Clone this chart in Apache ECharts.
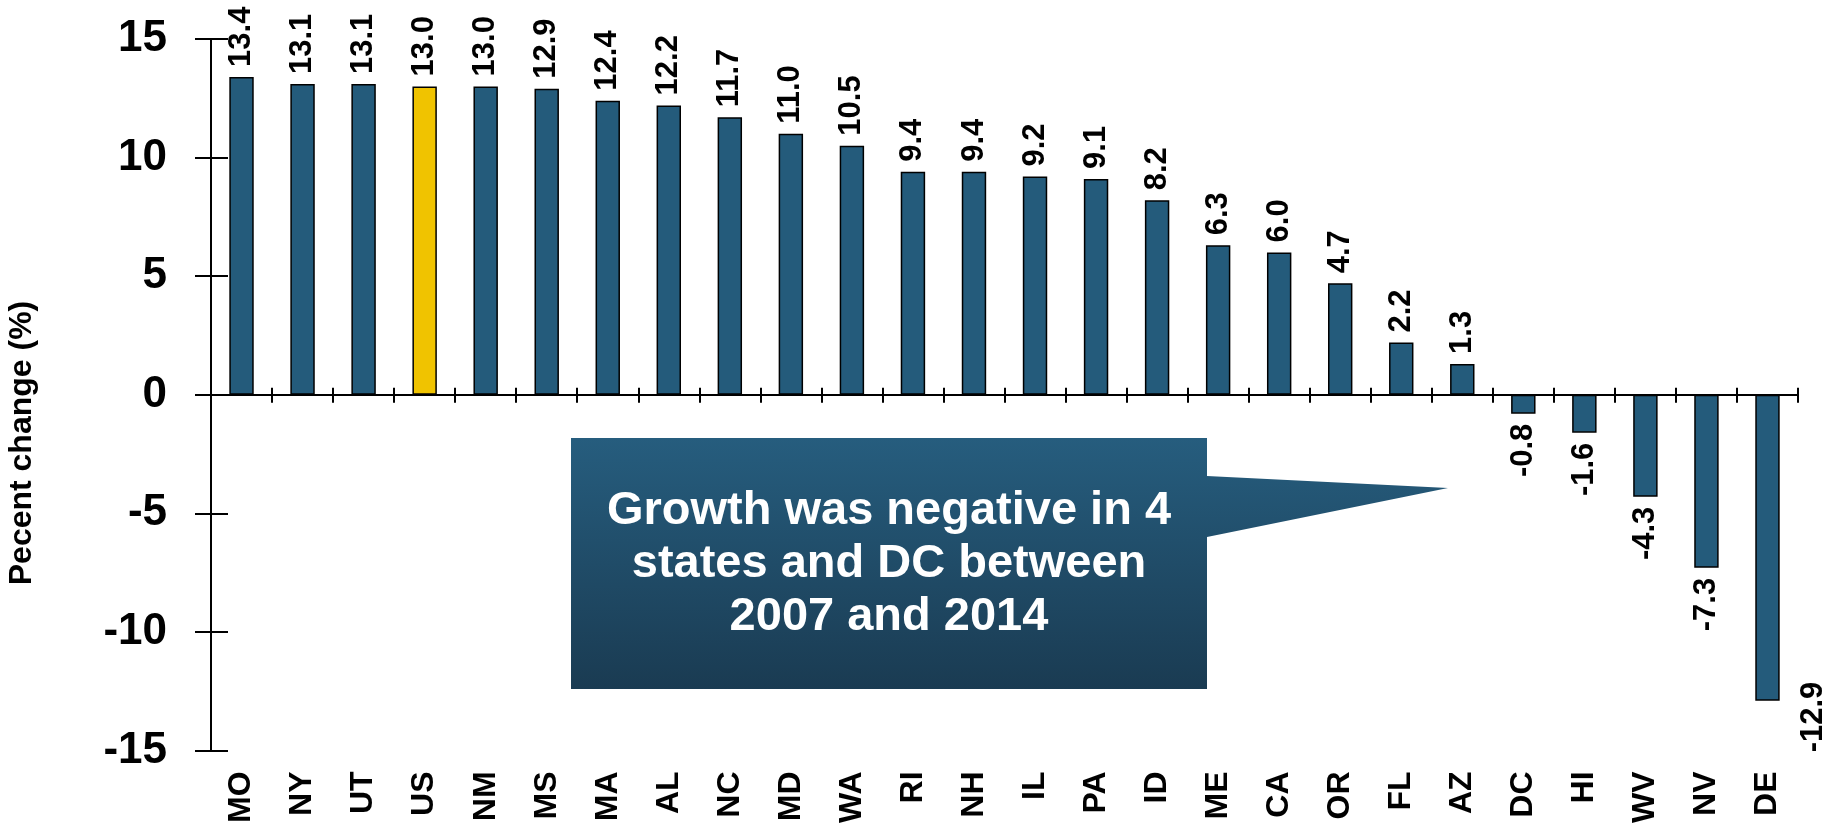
<!DOCTYPE html>
<html>
<head>
<meta charset="utf-8">
<script src="https://cdn.jsdelivr.net/npm/echarts@6/dist/echarts.min.js"></script>
<style>
html,body{margin:0;padding:0;background:#fff;}
#c{width:1831px;height:826px;}
</style>
</head>
<body>
<div id="c"></div>
<script>
const categories = ['MO','NY','UT','US','NM','MS','MA','AL','NC','MD','WA','RI','NH','IL','PA','ID','ME','CA','OR','FL','AZ','DC','HI','WV','NV','DE'];
const values = [13.4,13.1,13.1,13.0,13.0,12.9,12.4,12.2,11.7,11.0,10.5,9.4,9.4,9.2,9.1,8.2,6.3,6.0,4.7,2.2,1.3,-0.8,-1.6,-4.3,-7.3,-12.9];
const highlightCategory = 'US';
const yMin = -15, yMax = 15, yStep = 5;
const axisTitle = 'Pecent change (%)';
const calloutText = 'Growth was negative in 4\nstates and DC between\n2007 and 2014';

const FONT = '"Liberation Sans", Arial, Helvetica, sans-serif';
const BAR = '#245b7b';
const GOLD = '#f0c300';

const chart = echarts.init(document.getElementById('c'), null, {renderer: 'canvas'});

const seriesData = values.map((v, i) => {
  const item = {value: v};
  if (categories[i] === highlightCategory) item.itemStyle = {color: GOLD};
  if (v < 0) {
    item.label = {position: 'bottom', align: 'right'};
  }
  if (i === values.length - 1) {
    // last label sits beside the bar (offset is in the rotated label frame)
    item.label = {position: 'bottom', align: 'right', offset: [29, 46]};
  }
  return item;
});

const lineStyle = {color: '#000', width: 2};

chart.setOption({
  animation: false,
  backgroundColor: '#fff',
  grid: {left: 211, right: 33, top: 39, bottom: 75},
  xAxis: [
    {
      type: 'category', data: categories, position: 'bottom',
      axisLine: {show: false, onZero: false},
      axisTick: {show: false},
      axisLabel: {rotate: 90, interval: 0, margin: 21, fontSize: 32, fontWeight: 'bold', color: '#000', fontFamily: FONT}
    },
    {
      type: 'category', data: categories, position: 'bottom',
      axisLine: {show: true, onZero: true, lineStyle: lineStyle},
      axisTick: {show: true, interval: 0, length: 8, lineStyle: lineStyle},
      axisLabel: {show: false}
    },
    {
      type: 'category', data: categories, position: 'top',
      axisLine: {show: true, onZero: true, lineStyle: lineStyle},
      axisTick: {show: true, interval: 0, length: 7, lineStyle: lineStyle},
      axisLabel: {show: false}
    }
  ],
  yAxis: [
    {
      type: 'value', min: yMin, max: yMax, interval: yStep, position: 'left',
      axisLine: {show: true, lineStyle: lineStyle},
      axisTick: {show: true, length: 16, lineStyle: lineStyle},
      splitLine: {show: false},
      axisLabel: {margin: 44, fontSize: 44, fontWeight: 'bold', color: '#000', fontFamily: FONT}
    },
    {
      type: 'value', min: yMin, max: yMax, interval: yStep, position: 'left',
      axisLine: {show: false},
      axisTick: {show: true, inside: true, length: 17, lineStyle: lineStyle},
      splitLine: {show: false},
      axisLabel: {show: false}
    }
  ],
  series: [{
    type: 'bar',
    xAxisIndex: 0, yAxisIndex: 0,
    data: seriesData,
    barWidth: '40%',
    itemStyle: {color: BAR, borderColor: '#000', borderWidth: 1.5},
    label: {
      show: true, position: 'top', rotate: 90, align: 'left', verticalAlign: 'middle',
      distance: 10, fontSize: 31, fontWeight: 'bold', color: '#000', fontFamily: FONT,
      formatter: p => p.value.toFixed(1)
    }
  }],
  graphic: [
    {
      type: 'text', x: 22, y: 443, rotation: Math.PI / 2,
      style: {text: axisTitle, fill: '#000', font: 'bold 32px ' + FONT, align: 'center', verticalAlign: 'middle'}
    },
    {
      type: 'polygon',
      shape: {points: [[571, 438], [1207, 438], [1207, 476], [1448, 488], [1207, 537], [1207, 689], [571, 689]]},
      style: {fill: new echarts.graphic.LinearGradient(0, 0, 0, 1, [{offset: 0, color: '#265d7e'}, {offset: 1, color: '#1a3b52'}])}
    },
    {
      type: 'text', x: 889, y: 564,
      style: {text: calloutText, fill: '#fff', font: 'bold 47px ' + FONT, align: 'center', verticalAlign: 'middle', lineHeight: 53}
    }
  ]
});
</script>
</body>
</html>
